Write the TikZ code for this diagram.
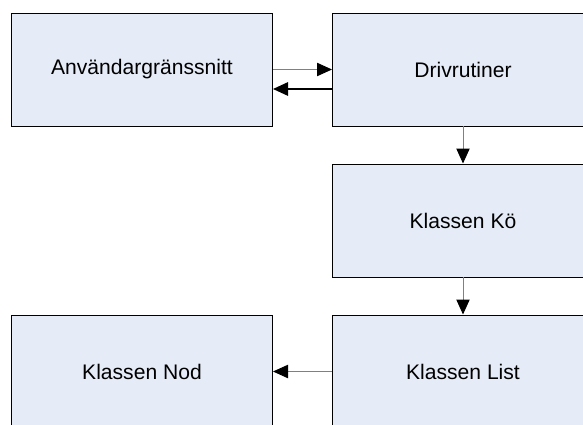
\documentclass[tikz,border=0pt]{standalone}
\usepackage{fontspec}
\setmainfont{Liberation Sans}
\usepackage{xcolor}
\usepackage{tikz}
\usetikzlibrary{arrows.meta}

\definecolor{boxfill}{RGB}{230,236,247}
\definecolor{linegray}{RGB}{128,128,128}

\begin{document}
\begin{tikzpicture}[
		box/.style={draw=black, fill=boxfill, line width=0.85pt, minimum width=7.83cm, minimum height=3.39cm, inner sep=0pt, font=\fontsize{18}{21}\selectfont},
		link/.style={draw=linegray, line width=0.85pt, -{Triangle[length=0.45cm, width=0.4cm, color=black]}},
		backlink/.style={draw=black, line width=1.7pt, -{Triangle[length=0.45cm, width=0.4cm, color=black]}}
	]
			\useasboundingbox (0,0) rectangle (17.49,12.72);
			\clip (0,0) rectangle (17.49,12.72);
			% program blocks
			\node[box] (ui) at (4.26,10.635) {Användargränssnitt};
			\node[box] (drv) at (13.89,10.635) {Drivrutiner};
			\node[box] (ko) at (13.89,6.105) {Klassen Kö};
			\node[box] (lista) at (13.89,1.575) {Klassen List};
			\node[box] (nod) at (4.26,1.575) {Klassen Nod};

			\draw[link] (ui.east) -- (drv.west);
			\draw[backlink] ([yshift=-0.585cm]drv.west) -- ([yshift=-0.585cm]ui.east);
			\draw[link] (drv) -- (ko);
			\draw[link] (ko) -- (lista);
			\draw[link] (lista) -- (nod);
		\end{tikzpicture}
\end{document}
